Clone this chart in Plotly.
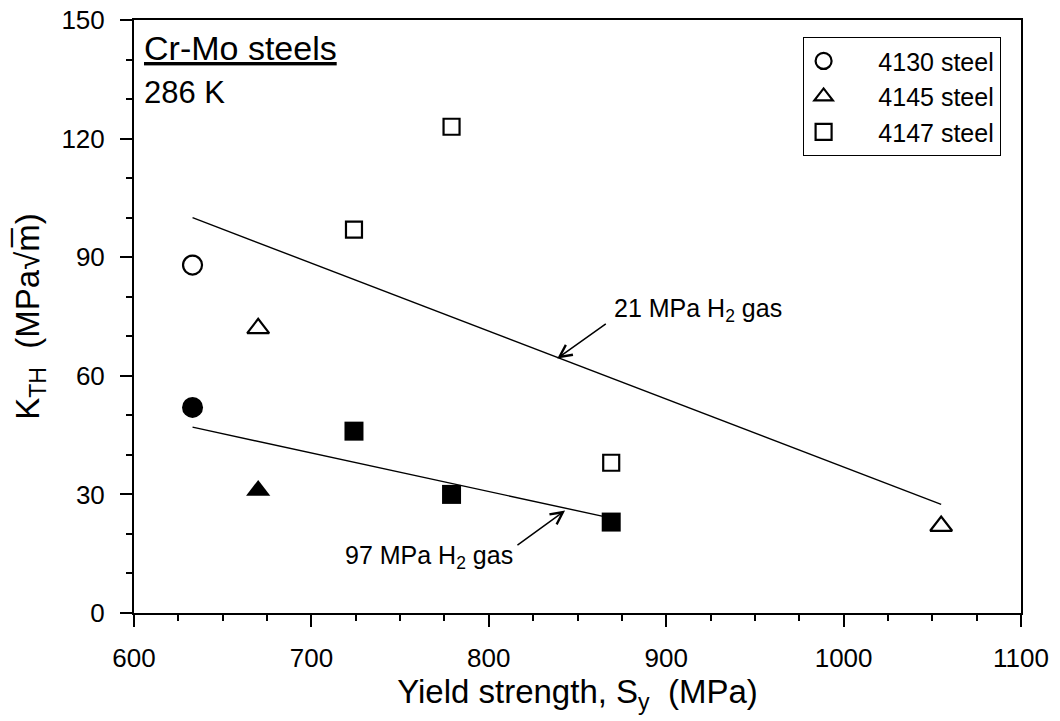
import plotly.graph_objects as go

# ---- data ----
sy_4130_21 = [633]
kth_4130_21 = [88]
sy_4130_97 = [633]
kth_4130_97 = [52]

sy_4145_21 = [670, 1055]
kth_4145_21 = [72, 22]
sy_4145_97 = [670]
kth_4145_97 = [31]

sy_4147_21 = [724, 779, 869]
kth_4147_21 = [97, 123, 38]
sy_4147_97 = [724, 779, 869]
kth_4147_97 = [46, 30, 23]

fit21_x = [633, 1055]
fit21_y = [100, 27.5]
fit97_x = [633, 869]
fit97_y = [47, 24]

legend_names = ["4130 steel", "4145 steel", "4147 steel"]

FONT = "Arial, Liberation Sans, sans-serif"
BLACK = "black"
PAD = "\u00a0" * 5  # spacing between legend symbol and its text

fig = go.Figure()

# fit lines
fig.add_trace(go.Scatter(x=fit21_x, y=fit21_y, mode="lines",
                         line=dict(color=BLACK, width=1.4), showlegend=False, hoverinfo="skip"))
fig.add_trace(go.Scatter(x=fit97_x, y=fit97_y, mode="lines",
                         line=dict(color=BLACK, width=1.4), showlegend=False, hoverinfo="skip"))

# open markers (21 MPa) - in legend
fig.add_trace(go.Scatter(x=sy_4130_21, y=kth_4130_21, mode="markers", name=PAD + legend_names[0],
                         marker=dict(symbol="circle-open", size=19, color=BLACK, line=dict(width=2.2))))
fig.add_trace(go.Scatter(x=sy_4145_21, y=kth_4145_21, mode="markers", name=PAD + legend_names[1],
                         marker=dict(symbol="triangle-up-open", size=19, color=BLACK, line=dict(width=2.2))))
fig.add_trace(go.Scatter(x=sy_4147_21, y=kth_4147_21, mode="markers", name=PAD + legend_names[2],
                         marker=dict(symbol="square-open", size=16, color=BLACK, line=dict(width=2.2))))

# filled markers (97 MPa)
fig.add_trace(go.Scatter(x=sy_4130_97, y=kth_4130_97, mode="markers", showlegend=False,
                         marker=dict(symbol="circle", size=21, color=BLACK, line=dict(width=0))))
fig.add_trace(go.Scatter(x=sy_4145_97, y=kth_4145_97, mode="markers", showlegend=False,
                         marker=dict(symbol="triangle-up", size=21, color=BLACK, line=dict(width=0))))
fig.add_trace(go.Scatter(x=sy_4147_97, y=kth_4147_97, mode="markers", showlegend=False,
                         marker=dict(symbol="square", size=19, color=BLACK, line=dict(width=0))))

annotations = [
    # arrows
    dict(x=838.6, y=64.4, ax=866.8, ay=73.4, xref="x", yref="y", axref="x", ayref="y",
         text="", showarrow=True, arrowhead=5, arrowsize=1.6, arrowwidth=1.5, arrowcolor=BLACK,
         standoff=0),
    dict(x=843, y=25.9, ax=815.3, ay=16.9, xref="x", yref="y", axref="x", ayref="y",
         text="", showarrow=True, arrowhead=5, arrowsize=1.6, arrowwidth=1.5, arrowcolor=BLACK,
         standoff=0),
    # labels
    dict(x=869.3, y=76.6, xref="x", yref="y", text="21 MPa H<sub>2</sub> gas", showarrow=False,
         xanchor="left", yanchor="middle", font=dict(family=FONT, size=25, color=BLACK)),
    dict(x=815, y=14.2, xref="x", yref="y", text="97 MPa H<sub>2</sub> gas", showarrow=False,
         xanchor="right", yanchor="middle", font=dict(family=FONT, size=25, color=BLACK)),
    dict(x=0.009, y=0.988, xref="paper", yref="paper", text="<u>Cr-Mo steels</u>", showarrow=False,
         xanchor="left", yanchor="top", font=dict(family=FONT, size=34, color=BLACK)),
    dict(x=0.009, y=0.911, xref="paper", yref="paper", text="286 K", showarrow=False,
         xanchor="left", yanchor="top", font=dict(family=FONT, size=31, color=BLACK)),
]

fig.update_layout(
    width=1060, height=721,
    margin=dict(l=134, r=39, t=20, b=108, pad=0),
    paper_bgcolor="white", plot_bgcolor="white",
    font=dict(family=FONT, color=BLACK),
    annotations=annotations,
    showlegend=True,
    legend=dict(x=0.977, y=0.971, xanchor="right", yanchor="top",
                bordercolor=BLACK, borderwidth=1, bgcolor="white",
                font=dict(family=FONT, size=25, color=BLACK),
                tracegroupgap=0),
)

fig.update_xaxes(
    range=[600, 1100], tickvals=[600, 700, 800, 900, 1000, 1100],
    showgrid=False, zeroline=False, automargin=False,
    showline=True, linecolor=BLACK, linewidth=2, mirror=True,
    ticks="outside", ticklen=12, tickwidth=2, tickcolor=BLACK,
    minor=dict(dtick=25, ticks="outside", ticklen=6, tickwidth=2, tickcolor=BLACK, showgrid=False),
    tickfont=dict(family=FONT, size=26, color=BLACK),
    ticklabelstandoff=9,
    title=dict(text="Yield strength, S<sub>y</sub>\u00a0\u00a0(MPa)", standoff=6,
               font=dict(family=FONT, size=33, color=BLACK)),
)
fig.update_yaxes(
    range=[0, 150], tickvals=[0, 30, 60, 90, 120, 150],
    showgrid=False, zeroline=False, automargin=False,
    showline=True, linecolor=BLACK, linewidth=2, mirror=True,
    ticks="outside", ticklen=12, tickwidth=2, tickcolor=BLACK,
    minor=dict(dtick=10, ticks="outside", ticklen=6, tickwidth=2, tickcolor=BLACK, showgrid=False),
    tickfont=dict(family=FONT, size=26, color=BLACK),
    ticklabelstandoff=10,
    title=dict(text="K<sub>TH</sub>\u00a0\u00a0(MPa\u221am\u0305)", standoff=12,
               font=dict(family=FONT, size=33, color=BLACK)),
)

fig.write_html("out.html", config={"displayModeBar": False},
               post_script="document.body.style.margin='0';document.body.style.padding='0';")
